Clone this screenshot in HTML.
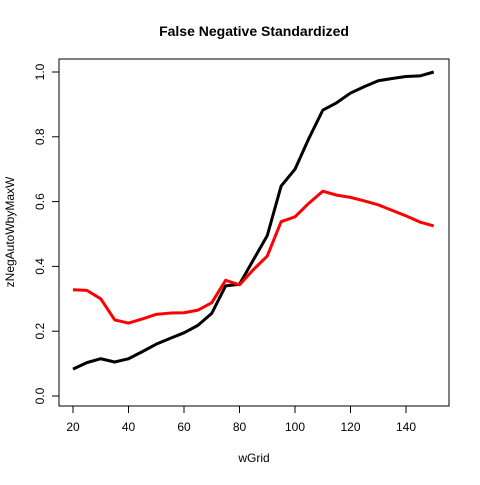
<!DOCTYPE html>
<html><head><meta charset="utf-8"><style>
body{margin:0;background:#fff}
svg text{font-family:"Liberation Sans",sans-serif;fill:#000}
</style></head><body>
<svg width="480" height="480" xmlns="http://www.w3.org/2000/svg">
<text x="254" y="36" text-anchor="middle" font-size="14" font-weight="bold">False Negative Standardized</text>
<rect x="59" y="59" width="390" height="347" fill="none" stroke="#000"/>
<g id="xaxis"></g>
<g id="yaxis"></g>
<text x="254" y="462" text-anchor="middle" font-size="12">wGrid</text>
<text transform="translate(14,232) rotate(-90)" text-anchor="middle" font-size="12">zNegAutoWbyMaxW</text>
<g id="series"></g>
</svg>
<script>
const wGrid=[20,25,30,35,40,45,50,55,60,65,70,75,80,85,90,95,100,105,110,115,120,125,130,135,140,145,150];
const blackSeries=[0.083,0.103,0.115,0.105,0.115,0.137,0.16,0.178,0.195,0.218,0.255,0.34,0.345,0.42,0.495,0.648,0.70,0.795,0.882,0.905,0.935,0.955,0.973,0.98,0.986,0.988,1.0];
const redSeries=[0.328,0.326,0.30,0.235,0.225,0.238,0.252,0.256,0.257,0.265,0.288,0.357,0.343,0.39,0.432,0.538,0.553,0.595,0.632,0.62,0.613,0.602,0.59,0.573,0.556,0.537,0.525];
const xTicks=[20,40,60,80,100,120,140];
const yTicks=[0.0,0.2,0.4,0.6,0.8,1.0];
const NS="http://www.w3.org/2000/svg";
const xs=v=>73+(v-20)*(333/120);
const ys=v=>396-v*324;
function mk(tag,attrs,parent){const e=document.createElementNS(NS,tag);for(const k in attrs)e.setAttribute(k,attrs[k]);parent.appendChild(e);return e;}
const xa=document.getElementById('xaxis'),ya=document.getElementById('yaxis'),sg=document.getElementById('series');
mk('line',{x1:xs(20),x2:xs(140),y1:406,y2:406,stroke:'#000'},xa);
xTicks.forEach(t=>{
 const l=mk('line',{x1:xs(t),x2:xs(t),y1:406,y2:413,stroke:'#000'},xa);
 
 
 const tx=mk('text',{x:xs(t),y:431,'text-anchor':'middle','font-size':12},xa);tx.textContent=t;
 
 
});
mk('line',{x1:59,x2:59,y1:ys(0),y2:ys(1),stroke:'#000'},ya);
yTicks.forEach(t=>{
 const l=mk('line',{x1:52,x2:59,y1:ys(t),y2:ys(t),stroke:'#000'},ya);
 
 
 const tx=mk('text',{transform:`translate(44,${ys(t)}) rotate(-90)`,'text-anchor':'middle','font-size':12},ya);tx.textContent=t.toFixed(1);
 
 
});
function line(vals,color,name){
 const p=mk('polyline',{points:vals.map((v,i)=>xs(wGrid[i])+','+ys(v)).join(' '),fill:'none',stroke:color,'stroke-width':3,'stroke-linejoin':'round'},sg);
 
 
}
line(blackSeries,'#000','black-series-line');
line(redSeries,'#ff0000','red-series-line');
</script>
</body></html>
